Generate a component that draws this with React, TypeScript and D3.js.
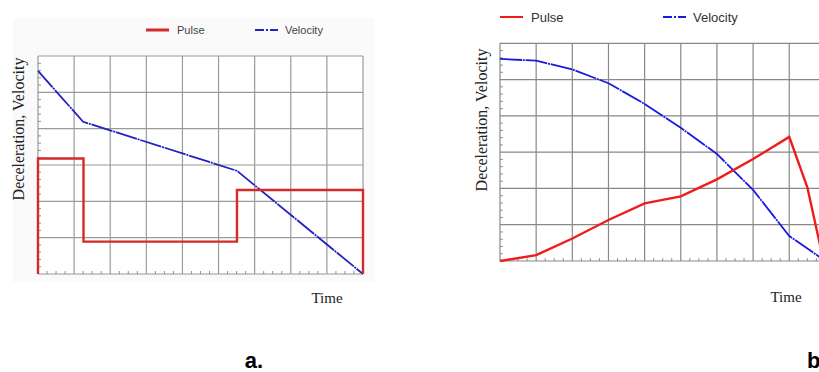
import React from "react";
import * as d3 from "d3";

// ---- Data (grid units: time 0..9 columns, value 0..6 rows) ----
const pulseATime = [0, 0, 1.26, 1.26, 5.51, 5.51, 9, 9];
const pulseAValue = [0, 3.18, 3.18, 0.89, 0.89, 2.31, 2.31, 0];
const velocityATime = [0, 1.25, 5.51, 9];
const velocityAValue = [5.59, 4.19, 2.84, 0];

const pulseBTime = [0, 1, 2, 3, 4, 5, 6, 7, 8, 8.5, 8.95];
const pulseBValue = [0, 0.16, 0.62, 1.13, 1.59, 1.78, 2.25, 2.81, 3.42, 2.03, 0];
const velocityBTime = [0, 1, 2, 3, 4, 5, 6, 7, 8, 9];
const velocityBValue = [5.57, 5.52, 5.28, 4.9, 4.33, 3.67, 2.95, 1.96, 0.69, 0];

const legendLabels = ["Pulse", "Velocity"];
const xLabel = "Time";
const yLabel = "Deceleration, Velocity";
const panelLabels = ["a.", "b."];

const RED = "#f01c1c";
const BLUE = "#1a1ae0";
const VEL_DASH = "22,0.8,2,0.8";

type PanelProps = {
  x0: number; x1: number; y0: number; y1: number;
  pulseT: number[]; pulseV: number[]; velT: number[]; velV: number[];
  gridColor: string; redColor: string; blueColor: string;
};

function Panel(p: PanelProps) {
  const x = d3.scaleLinear().domain([0, 9]).range([p.x0, p.x1]);
  const y = d3.scaleLinear().domain([0, 6]).range([p.y1, p.y0]);
  const line = d3.line<[number, number]>().x((d) => x(d[0])).y((d) => y(d[1]));
  const pulse = line(p.pulseT.map((t, i) => [t, p.pulseV[i]] as [number, number])) || "";
  const vel = line(p.velT.map((t, i) => [t, p.velV[i]] as [number, number])) || "";
  const majorX = d3.range(0, 10);
  const majorY = d3.range(0, 7);
  const minorX = d3.range(0, 9, 0.25).filter((v) => v % 1 !== 0);
  const minorY = d3.range(0, 6, 0.2).filter((v) => Math.abs(v - Math.round(v)) > 1e-6);
  return (
    <g>
      <rect x={p.x0} y={p.y0} width={p.x1 - p.x0} height={p.y1 - p.y0} fill="#fff" />
      {majorX.map((v) => (
        <line key={"gx" + v} x1={x(v)} x2={x(v)} y1={p.y0} y2={p.y1} stroke={p.gridColor} strokeWidth={1.2} />
      ))}
      {majorY.map((v) => (
        <line key={"gy" + v} x1={p.x0} x2={p.x1} y1={y(v)} y2={y(v)} stroke={p.gridColor} strokeWidth={1.2} />
      ))}
      {minorX.map((v) => (
        <line key={"mx" + v} x1={x(v)} x2={x(v)} y1={p.y1} y2={p.y1 - 3} stroke="#777" strokeWidth={0.8} />
      ))}
      {minorY.map((v) => (
        <line key={"my" + v} x1={p.x0} x2={p.x0 + 3} y1={y(v)} y2={y(v)} stroke="#777" strokeWidth={0.8} />
      ))}
      <path d={vel} fill="none" stroke={p.blueColor} strokeWidth={1.8} strokeDasharray={VEL_DASH} />
      <path d={pulse} fill="none" stroke={p.redColor} strokeWidth={2.4} strokeLinejoin="miter" />
    </g>
  );
}

export default function App() {
  return (
    <svg width={819} height={372} style={{ position: "absolute", left: 0, top: 0, background: "#fff" }}>
      {/* Panel a */}
      <rect x={13} y={18} width={361} height={264} fill="#fafafa" />
      <Panel x0={38} x1={363} y0={56} y1={274}
        pulseT={pulseATime} pulseV={pulseAValue} velT={velocityATime} velV={velocityAValue}
        gridColor="#9a9a9a" redColor="#d42a2a" blueColor="#2222c0" />
      <line x1={146} x2={169} y1={30} y2={30} stroke="#d42a2a" strokeWidth={3} />
      <text x={177} y={34} fontFamily="Liberation Sans, Arial, sans-serif" fontSize={11} fill="#444">{legendLabels[0]}</text>
      <line x1={255} x2={278} y1={30} y2={30} stroke="#2222c0" strokeWidth={2} strokeDasharray="9,2,2,2" />
      <text x={285} y={34} fontFamily="Liberation Sans, Arial, sans-serif" fontSize={11} fill="#444">{legendLabels[1]}</text>
      <text transform="translate(24,129) rotate(-90)" textAnchor="middle" fontFamily="Liberation Serif, 'Times New Roman', serif" fontSize={16} fill="#222">{yLabel}</text>
      <text x={327} y={303} textAnchor="middle" fontFamily="Liberation Serif, 'Times New Roman', serif" fontSize={15} fill="#222">{xLabel}</text>
      <text x={254} y={368} textAnchor="middle" fontFamily="Liberation Sans, Arial, sans-serif" fontSize={22} fontWeight="bold" fill="#000">{panelLabels[0]}</text>

      {/* Panel b */}
      <Panel x0={500} x1={825.4} y0={43.3} y1={261}
        pulseT={pulseBTime} pulseV={pulseBValue} velT={velocityBTime} velV={velocityBValue}
        gridColor="#888" redColor={RED} blueColor={BLUE} />
      <line x1={500} x2={523} y1={17} y2={17} stroke={RED} strokeWidth={2} />
      <text x={531} y={22} fontFamily="Liberation Sans, Arial, sans-serif" fontSize={13} fill="#333">{legendLabels[0]}</text>
      <line x1={663} x2={686} y1={17} y2={17} stroke={BLUE} strokeWidth={2} strokeDasharray="9,2,2,2" />
      <text x={693} y={22} fontFamily="Liberation Sans, Arial, sans-serif" fontSize={13} fill="#333">{legendLabels[1]}</text>
      <text transform="translate(487,120) rotate(-90)" textAnchor="middle" fontFamily="Liberation Serif, 'Times New Roman', serif" fontSize={16} fill="#222">{yLabel}</text>
      <text x={786} y={302} textAnchor="middle" fontFamily="Liberation Serif, 'Times New Roman', serif" fontSize={15} fill="#222">{xLabel}</text>
      <text x={807} y={368} fontFamily="Liberation Sans, Arial, sans-serif" fontSize={22} fontWeight="bold" fill="#000">{panelLabels[1]}</text>
    </svg>
  );
}
